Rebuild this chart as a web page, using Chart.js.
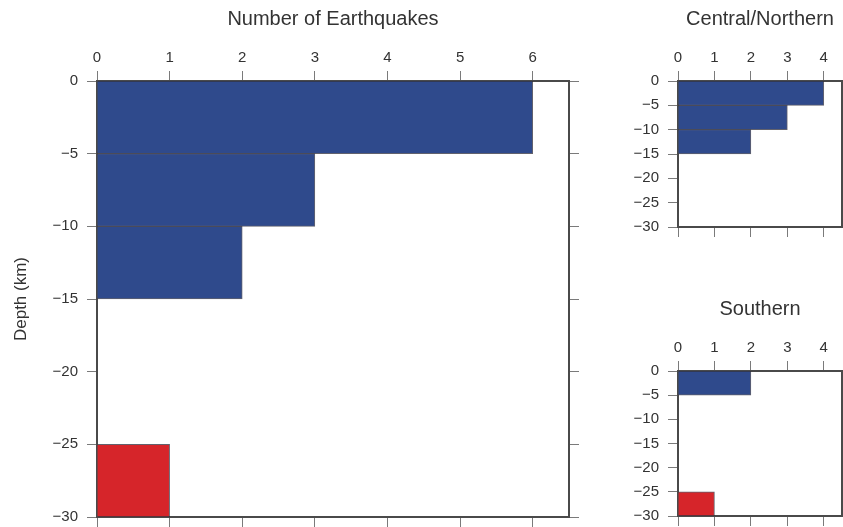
<!DOCTYPE html>
<html>
<head>
<meta charset="utf-8">
<script src="https://cdn.jsdelivr.net/npm/chart.js@4/dist/chart.umd.min.js"></script>
<style>
html,body{margin:0;padding:0;background:#fff;}
#wrap{position:relative;width:843px;height:527px;overflow:hidden;background:#fff;}
#wrap canvas{position:absolute;left:0;top:0;}
</style>
</head>
<body>
<div id="wrap">
<canvas id="cMain" width="843" height="527"></canvas>
<canvas id="cNorth" width="843" height="527"></canvas>
<canvas id="cSouth" width="843" height="527"></canvas>
</div>
<script>
// ---- data ----
const depthBins = [-2.5, -7.5, -12.5, -17.5, -22.5, -27.5];   // bin centres (km)
const depthTicks = [0, -5, -10, -15, -20, -25, -30];
const mainCountTicks = [0, 1, 2, 3, 4, 5, 6];
const regionCountTicks = [0, 1, 2, 3, 4];

const allShallow   = [6, 3, 2, 0, 0, 0];
const allDeep      = [0, 0, 0, 0, 0, 1];
const northShallow = [4, 3, 2, 0, 0, 0];
const northDeep    = [0, 0, 0, 0, 0, 0];
const southShallow = [2, 0, 0, 0, 0, 0];
const southDeep    = [0, 0, 0, 0, 0, 1];

const BLUE = '#2f4a8c';
const RED = '#d6252a';
const FONT = "'Liberation Sans', Arial, Helvetica, sans-serif";
Chart.defaults.font.family = FONT;

function fmtDepth(v){ return v < 0 ? '\u2212' + Math.abs(v) : String(v); }

function ds(vals, color){
  return {
    data: depthBins.map((d, i) => ({x: vals[i], y: d})).filter(p => p.x > 0),
    backgroundColor: color,
    borderColor: 'rgba(45,45,60,0.75)',
    borderWidth: 1,
    borderSkipped: 'start',
    barPercentage: 1,
    categoryPercentage: 1,
    grouped: false
  };
}

function noPad(s){ s.paddingTop = 0; s.paddingBottom = 0; s.paddingLeft = 0; s.paddingRight = 0; }

function makePanel(id, o){
  const W = 843, H = 527;
  const pad = {
    left: o.area.l - o.leftW,
    top: o.area.t - o.topH,
    right: W - o.area.r - o.rightW,
    bottom: H - o.area.b - o.bottomH
  };
  const grid = {drawOnChartArea:false, drawTicks:true, tickLength:o.tickLen, color:'#7a7a7a', lineWidth:1, offset:false};
  const border = {display:true, color:'#4a4a4a', width:2};
  new Chart(document.getElementById(id), {
    type: 'bar',
    data: { datasets: [ds(o.shallow, BLUE), ds(o.deep, RED)] },
    options: {
      indexAxis: 'y',
      responsive: false,
      animation: false,
      devicePixelRatio: 1,
      layout: {padding: pad},
      plugins: {legend:{display:false}, tooltip:{enabled:false}},
      scales: {
        x: {
          type:'linear', position:'top', min:0, max:o.xMax, offset:false,
          afterBuildTicks: s => { s.ticks = o.xTicks.map(v => ({value:v})); },
          afterFit: s => { s.height = o.topH; noPad(s); },
          ticks: {font:{size:o.tickSize}, color:'#333', padding:o.tickPad, maxRotation:0, autoSkip:false},
          grid: grid, border: border,
          title: {display:true, text:o.title, font:{size:o.titleSize}, color:'#333', padding:{top:o.titlePad, bottom:0}}
        },
        x2: {
          type:'linear', position:'bottom', min:0, max:o.xMax, offset:false,
          afterBuildTicks: s => { s.ticks = o.xTicks.map(v => ({value:v})); },
          afterFit: s => { s.height = o.bottomH; noPad(s); },
          ticks: {display:false},
          grid: grid, border: border
        },
        y: {
          type:'linear', position:'left', min:-30, max:0, offset:false,
          afterBuildTicks: s => { s.ticks = depthTicks.map(v => ({value:v})); },
          afterFit: s => { s.width = o.leftW; noPad(s); },
          ticks: {font:{size:o.tickSize}, color:'#333', padding:o.yTickPad, callback: v => fmtDepth(v), autoSkip:false},
          grid: grid, border: border,
          title: {display: !!o.yTitle, text:o.yTitle || '', font:{size:17}, color:'#333', padding:{top:11, bottom:0}}
        },
        y2: {
          type:'linear', position:'right', min:-30, max:0, offset:false,
          afterBuildTicks: s => { s.ticks = depthTicks.map(v => ({value:v})); },
          afterFit: s => { s.width = o.rightW; noPad(s); },
          ticks: {display:false},
          grid: grid, border: border
        }
      }
    }
  });
}

makePanel('cMain', {
  area:{l:97, t:81, r:569, b:517}, leftW:97, topH:81, rightW:20, bottomH:10,
  xMax:6.5, xTicks:mainCountTicks, shallow:allShallow, deep:allDeep,
  title:'Number of Earthquakes', titleSize:20, titlePad:7,
  tickSize:15, tickLen:10, tickPad:4, yTickPad:9, yTitle:'Depth (km)'
});
makePanel('cNorth', {
  area:{l:678, t:81, r:842, b:227}, leftW:80, topH:81, rightW:1, bottomH:12,
  xMax:4.5, xTicks:regionCountTicks, shallow:northShallow, deep:northDeep,
  title:'Central/Northern', titleSize:20, titlePad:7,
  tickSize:15, tickLen:10, tickPad:4, yTickPad:9
});
makePanel('cSouth', {
  area:{l:678, t:371, r:842, b:516}, leftW:80, topH:81, rightW:1, bottomH:11,
  xMax:4.5, xTicks:regionCountTicks, shallow:southShallow, deep:southDeep,
  title:'Southern', titleSize:20, titlePad:7,
  tickSize:15, tickLen:10, tickPad:4, yTickPad:9
});
</script>
</body>
</html>
